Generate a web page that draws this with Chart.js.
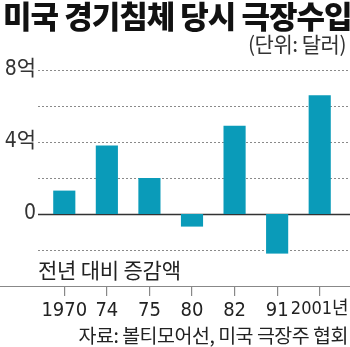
<!DOCTYPE html>
<html>
<head>
<meta charset="utf-8">
<script src="https://cdn.jsdelivr.net/npm/chart.js@4/dist/chart.umd.min.js"></script>
<style>
  body { margin: 0; background: #fff; }
  #wrap { position: relative; width: 350px; height: 347px; overflow: hidden; }
  #c { position: absolute; left: 0; top: 0; }
  .txt { position: absolute; font-family: "Noto Sans CJK KR", sans-serif; color: #222; white-space: nowrap; }
  #title { left: 3px; top: -8px; font-size: 31px; font-weight: 900; letter-spacing: -1px; color: #111; }
  #unit { right: 4px; top: 28px; font-size: 21px; color: #333; letter-spacing: -0.5px; }
  #note { left: 38px; top: 254px; font-size: 21px; color: #222; letter-spacing: -0.2px; }
  #src { right: 2px; top: 320px; font-size: 19.5px; color: #222; letter-spacing: -0.5px; }
</style>
</head>
<body>
<div id="wrap">
  <canvas id="c" width="350" height="347"></canvas>
  <div class="txt" id="title">미국 경기침체 당시 극장수입</div>
  <div class="txt" id="unit">(단위: 달러)</div>
  <div class="txt" id="note">전년 대비 증감액</div>
  <div class="txt" id="src">자료: 볼티모어선, 미국 극장주 협회</div>
</div>
<script>
// 연도별 극장수입 증감 (억 달러)
const years = ['1970', '74', '75', '80', '82', '91', '2001년'];
const changes = [1.3, 3.8, 2.0, -0.7, 4.9, -2.2, 6.6];
const yTicks = [-2, 0, 2, 4, 6, 8];
const yLabels = { 8: '8억', 4: '4억', 0: '0' };

const narrow = '"Liberation Sans Narrow", "DejaVu Sans Condensed", "Noto Sans CJK KR"';

// 점선 눈금선과 바닥선 (전체 폭)
const guideLines = {
    id: 'guideLines',
    beforeDatasetsDraw(chart) {
        const ctx = chart.ctx;
        const y = chart.scales.y;
        ctx.save();
        yTicks.forEach(v => {
            const py = Math.round(y.getPixelForValue(v)) + 0.5;
            ctx.beginPath();
            if (v === 0) {
                ctx.setLineDash([]);
                ctx.strokeStyle = '#333';
                ctx.lineWidth = 1.5;
            } else {
                ctx.setLineDash([2, 2]);
                ctx.strokeStyle = '#8a8a8a';
                ctx.lineWidth = 1;
            }
            ctx.moveTo(38, py);
            ctx.lineTo(350, py);
            ctx.stroke();
        });
        const by = Math.round(chart.chartArea.bottom) + 0.5;
        ctx.setLineDash([]);
        ctx.strokeStyle = '#888';
        ctx.lineWidth = 1.2;
        ctx.beginPath();
        ctx.moveTo(0, by);
        ctx.lineTo(350, by);
        ctx.stroke();
        ctx.restore();
    }
};

new Chart(document.getElementById('c'), {
    type: 'bar',
    data: {
        labels: years,
        datasets: [{
            data: changes,
            backgroundColor: '#0a9bb9',
            borderWidth: 0,
            barPercentage: 0.52,
            categoryPercentage: 1
        }]
    },
    options: {
        responsive: false,
        animation: false,
        layout: { padding: { top: 70, right: 9, left: 0, bottom: 0 } },
        plugins: { legend: { display: false }, tooltip: { enabled: false } },
        scales: {
            x: {
                afterFit: s => { s.height = 61; s.paddingLeft = 0; s.paddingRight = 0; },
                border: { display: false },
                grid: {
                    offset: false,
                    drawOnChartArea: false,
                    drawTicks: true,
                    tickLength: 10,
                    color: '#888',
                    lineWidth: 1.2
                },
                ticks: {
                    padding: 3,
                    color: '#222',
                    font: c => ({ family: narrow, size: c.index === 6 ? 18 : 20 }),
                    maxRotation: 0,
                    autoSkip: false
                }
            },
            y: {
                min: -4,
                max: 8,
                afterFit: s => { s.width = 43; },
                afterBuildTicks: s => { s.ticks = yTicks.map(v => ({ value: v })); },
                border: { display: false },
                grid: { display: false, drawTicks: false },
                ticks: {
                    padding: 7,
                    color: '#333',
                    font: { family: narrow, size: 21 },
                    callback: v => yLabels[v] !== undefined ? yLabels[v] : ''
                }
            }
        }
    },
    plugins: [guideLines]
});
</script>
</body>
</html>
